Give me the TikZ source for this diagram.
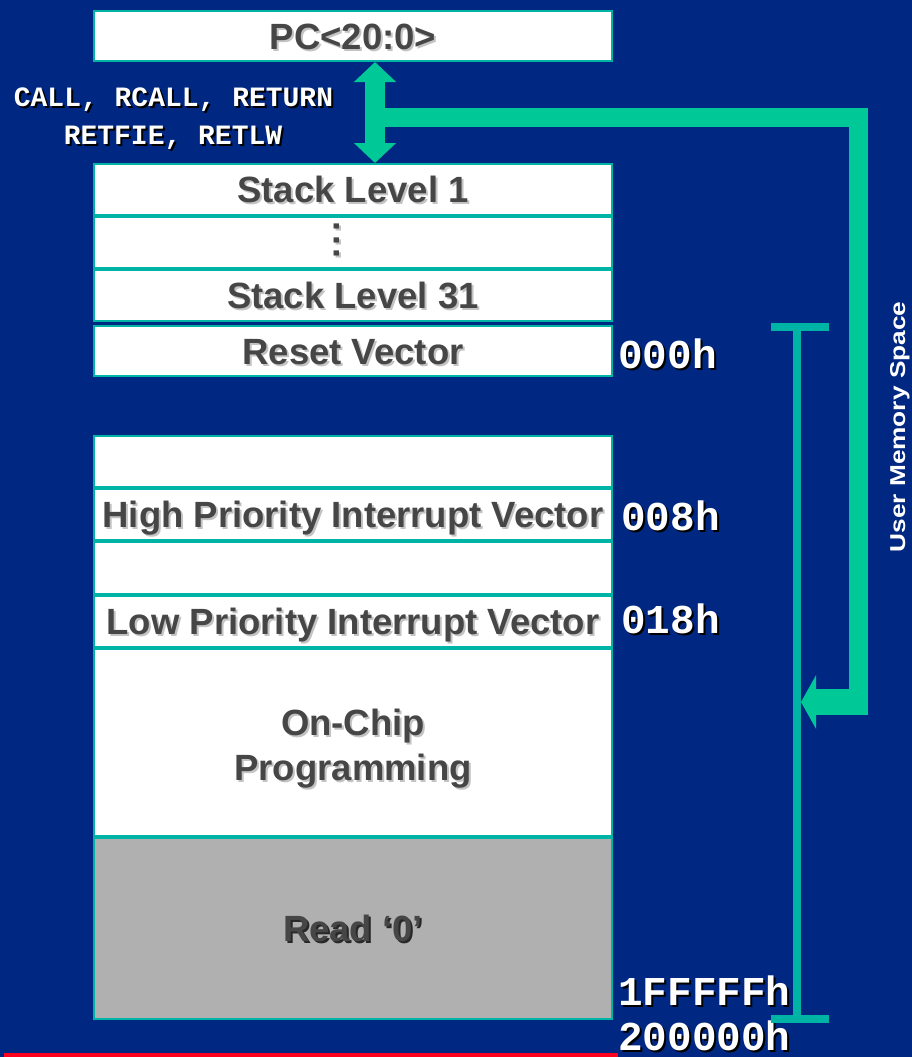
\documentclass[tikz,border=0pt]{standalone}
\usepackage{fontspec}
\usepackage{graphicx}
\setmainfont{Liberation Sans}
\setmonofont{Liberation Mono}
\usetikzlibrary{arrows.meta,calc}

\definecolor{slidebg}{RGB}{0,40,130}
\definecolor{busgreen}{RGB}{0,200,150}
\definecolor{rimteal}{RGB}{0,180,165}
\definecolor{cellgray}{RGB}{176,176,176}
\definecolor{inkgray}{RGB}{70,70,70}
\definecolor{softshade}{RGB}{195,195,195}
\definecolor{darkshade}{RGB}{40,40,40}
\definecolor{rulered}{RGB}{255,0,30}

% text with a small drop shadow: #1 text, #2 shadow colour, #3 text colour
\newcommand{\dropshadow}[3]{\leavevmode\rlap{\hspace{2pt}\raisebox{-2pt}{\textcolor{#2}{#1}}}\textcolor{#3}{#1}}
\newcommand{\celltext}[1]{\dropshadow{#1}{softshade}{inkgray}}
\newcommand{\greytext}[1]{\dropshadow{#1}{darkshade}{inkgray}}
\newcommand{\addrtext}[1]{\dropshadow{#1}{black}{white}}

\begin{document}
\begin{tikzpicture}[x=1pt,y=-1pt,
  cell/.style={draw=rimteal, line width=2pt, fill=white, minimum width=518pt,
    inner sep=0pt, text height=26pt, text depth=0pt,
    font=\fontsize{36.5}{40}\selectfont\bfseries},
  celllabel/.style={inner sep=0pt, text height=26pt, text depth=0pt,
    font=\fontsize{36.5}{40}\selectfont\bfseries},
  addr/.style={anchor=base west, inner sep=0pt, text height=24pt, text depth=0pt,
    font=\ttfamily\bfseries\fontsize{41}{44}\selectfont},
  instr/.style={anchor=base, inner sep=0pt,
    font=\ttfamily\bfseries\fontsize{28}{30}\selectfont},
  bus/.style={draw=busgreen, line join=miter},
  spanbar/.style={draw=rimteal, line width=8pt}
]
% slide background
\fill[slidebg] (0,0) rectangle (912,1057);
\useasboundingbox (0,0) rectangle (912,1057);
\fill[rulered] (4,1053) rectangle (618,1057);

% program counter and return stack
\node[cell, minimum height=50pt] (pc) at (353,36) {\celltext{PC<20:0>}};
\node[cell, minimum height=51pt] (s1) at (353,189.5) {\celltext{Stack Level 1}};
\node[cell, minimum height=51pt] (sdots) at (353,242.5) {};
\node[inner sep=0pt, font=\fontsize{36.5}{40}\selectfont\bfseries] (dots) at (337,241)
  {\celltext{\rotatebox{90}{.\kern3.5pt.\kern3.5pt.}}};
\node[cell, minimum height=51pt] (s31) at (353,295.5) {\celltext{Stack Level 31}};
\node[cell, minimum height=50pt] (reset) at (353,351) {\celltext{Reset Vector}};

% program memory
\node[cell, minimum height=51pt] (e1) at (353,461.5) {};
\node[cell, minimum height=51pt] (hi) at (353,514.5) {\celltext{High Priority Interrupt Vector}};
\node[cell, minimum height=52pt] (e2) at (353,568) {};
\node[cell, minimum height=51pt] (lo) at (353,621.5) {\celltext{Low Priority Interrupt Vector}};
\node[cell, minimum height=187pt] (ocp) at (353,742.5) {};
\node[celllabel] (ocpA) at (353,722.5) {\celltext{On-Chip}};
\node[celllabel] (ocpB) at (353,767.5) {\celltext{Programming}};
\node[cell, fill=cellgray, minimum height=181pt] (rd) at (353,928.5) {\greytext{Read ‘0’}};

% addresses
\node[addr] (a000) at (618,368) {\addrtext{000h}};
\node[addr] (a008) at (621,530) {\addrtext{008h}};
\node[addr] (a018) at (621,633) {\addrtext{018h}};
\node[addr] (aend) at (618,1005) {\addrtext{1FFFFFh}};
\node[addr] (alim) at (618,1050) {\addrtext{200000h}};

% instructions that move the PC through the stack
\node[instr] (ins1) at (173.5,106) {\addrtext{CALL, RCALL, RETURN}};
\node[instr] (ins2) at (173,144) {\addrtext{RETFIE, RETLW}};

% extent of user memory
\coordinate (rtop) at (797,327);
\coordinate (rbot) at (797,1019);
\draw[spanbar] (rtop) -- (rbot);
\draw[spanbar] ($(rtop)+(-26,0)$) -- ($(rtop)+(32,0)$);
\draw[spanbar] ($(rbot)+(-26,0)$) -- ($(rbot)+(32,0)$);
\node[rotate=90, anchor=base, inner sep=0pt, text=white,
  font=\bfseries\fontsize{21.5}{24}\selectfont] (ums) at (905,427)
  {\scalebox{1.22}[1]{User Memory Space}};

% PC <-> stack transfer and the path into user memory
\coordinate (tapx) at (375,0);
\coordinate (busTR) at (858.5,117.5);
\coordinate (busBR) at (858.5,702);
\coordinate (busR) at (868,702);
\coordinate (hit) at (801,702);
\draw[bus, line width=19pt] (tapx |- busTR) -- (busTR) -- (busBR);
\draw[bus, line width=26pt, -{Triangle[width=53pt,length=15pt]}] (busR) -- (hit);
\draw[bus, line width=20pt,
  {Triangle[width=41pt,length=20pt]}-{Triangle[width=41pt,length=20pt]}]
  (pc.south -| tapx) -- (s1.north -| tapx);
\end{tikzpicture}
\end{document}
